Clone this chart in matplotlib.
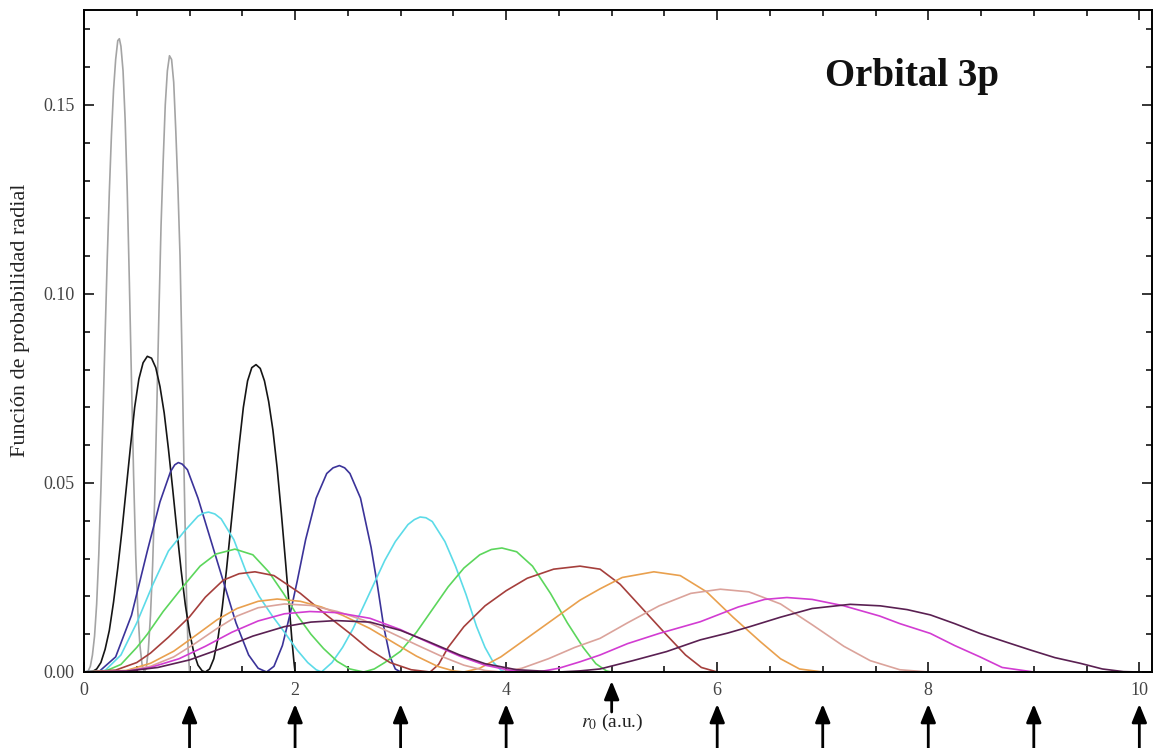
import matplotlib
matplotlib.use("Agg")
import matplotlib.pyplot as plt
from matplotlib.ticker import MultipleLocator, FormatStrFormatter

# Radial probability curves of the confined 3p orbital, one per confinement radius r0
r0_values = [1, 2, 3, 4, 5, 6, 7, 8, 9, 10]
colors = ["#a4a4a4", "#151515", "#3b3399", "#5cdbe8", "#5cd65c",
          "#a53f3c", "#e9a04e", "#dba39b", "#d23cd2", "#5a2052"]

x_r1 = [0.00, 0.04, 0.06, 0.08, 0.10, 0.12, 0.14, 0.16, 0.18, 0.20, 0.22, 0.24, 0.26, 0.28, 0.30, 0.32, 0.335,
        0.35, 0.37, 0.39, 0.41, 0.43, 0.45, 0.47, 0.49, 0.51, 0.53, 0.55, 0.57,
        0.59, 0.61, 0.63, 0.65, 0.67, 0.69, 0.71, 0.73, 0.75, 0.77, 0.79, 0.81, 0.83, 0.85, 0.87, 0.89,
        0.91, 0.93, 0.95, 0.97, 0.985, 1.00]
p_r1 = [0, 0.0003, 0.0015, 0.0045, 0.0095, 0.018, 0.031, 0.048, 0.068, 0.089, 0.109, 0.127, 0.142, 0.154, 0.162,
        0.1670, 0.1675, 0.1655, 0.159, 0.146, 0.127, 0.103, 0.077, 0.052, 0.031, 0.016, 0.007, 0.002, 0,
        0.001, 0.006, 0.015, 0.028, 0.046, 0.070, 0.095, 0.118, 0.135, 0.150, 0.159, 0.163, 0.162, 0.156, 0.143,
        0.128, 0.110, 0.082, 0.050, 0.022, 0.007, 0]

x_r2 = [0.0, 0.08, 0.12, 0.16, 0.20, 0.24, 0.28, 0.32, 0.36, 0.40, 0.44, 0.48, 0.52, 0.56, 0.60, 0.64, 0.68, 0.72,
        0.76, 0.80, 0.84, 0.88, 0.92, 0.96, 1.00, 1.04, 1.08, 1.12, 1.15,
        1.19, 1.23, 1.27, 1.31, 1.35, 1.39, 1.43, 1.47, 1.51, 1.55, 1.59, 1.63, 1.67, 1.71, 1.75, 1.79, 1.83,
        1.87, 1.91, 1.94, 1.97, 1.99, 2.0]
p_r2 = [0, 0.0001, 0.0008, 0.0025, 0.0060, 0.0110, 0.0185, 0.0275, 0.0375, 0.0485, 0.0595, 0.0700, 0.0775, 0.0818,
        0.0835, 0.0830, 0.0805, 0.0755, 0.0685, 0.0590, 0.0485, 0.0375, 0.0270, 0.0178, 0.0105, 0.0052, 0.0018,
        0.0003, 0,
        0.0008, 0.0035, 0.0090, 0.0170, 0.0270, 0.0380, 0.0490, 0.0600, 0.0700, 0.0770, 0.0805, 0.0813, 0.0803,
        0.0770, 0.0715, 0.0640, 0.0540, 0.0420, 0.0290, 0.0190, 0.0085, 0.0025, 0]

x_r3 = [0, 0.15, 0.30, 0.45, 0.60, 0.72, 0.82, 0.86, 0.894, 0.93, 0.98, 1.08, 1.20, 1.32, 1.44, 1.56, 1.65, 1.73,
        1.80, 1.88, 1.95, 2.02, 2.10, 2.20, 2.30, 2.36, 2.42, 2.47, 2.52, 2.62, 2.72, 2.78, 2.84, 2.90, 2.95, 3.0]
p_r3 = [0, 0.0003, 0.0040, 0.0150, 0.0320, 0.0450, 0.0530, 0.0548, 0.0554, 0.0550, 0.0535, 0.0460, 0.0350, 0.0240,
        0.0130, 0.0045, 0.0010, 0,
        0.0015, 0.0070, 0.0150, 0.0240, 0.0350, 0.0460, 0.0525, 0.0540, 0.0546, 0.0540, 0.0525, 0.0460, 0.0330,
        0.0230, 0.0120, 0.0040, 0.0008, 0]

x_r4 = [0, 0.2, 0.35, 0.5, 0.65, 0.80, 0.95, 1.08, 1.13, 1.18, 1.24, 1.30, 1.42, 1.54, 1.66, 1.78, 1.90, 2.02,
        2.12, 2.20, 2.25,
        2.35, 2.45, 2.55, 2.65, 2.75, 2.85, 2.95, 3.07, 3.13, 3.185, 3.24, 3.30, 3.42, 3.52, 3.62, 3.72, 3.80,
        3.88, 3.95, 4.0]
p_r4 = [0, 0.0004, 0.0045, 0.0130, 0.0230, 0.0320, 0.0372, 0.0412, 0.0420, 0.0423, 0.0418, 0.0405, 0.0350, 0.0262,
        0.0200, 0.0150, 0.0105, 0.0058, 0.0025, 0.0006, 0,
        0.0025, 0.0065, 0.0115, 0.0175, 0.0235, 0.0295, 0.0345, 0.0390, 0.0403, 0.0410, 0.0408, 0.0398, 0.0345,
        0.0280, 0.0205, 0.0120, 0.0065, 0.0025, 0.0005, 0]

x_r5 = [0, 0.2, 0.35, 0.5, 0.6, 0.75, 0.95, 1.1, 1.25, 1.43, 1.6, 1.75, 1.89, 2.02, 2.15, 2.27, 2.40, 2.52, 2.65,
        2.75, 2.85, 3.0, 3.15, 3.3, 3.45, 3.6, 3.75, 3.86, 3.96, 4.1, 4.25, 4.42, 4.58, 4.73, 4.85, 4.95, 5.0]
p_r5 = [0, 0.0002, 0.0020, 0.0065, 0.0100, 0.0160, 0.0230, 0.0280, 0.0312, 0.0325, 0.0310, 0.0265, 0.0208, 0.0150,
        0.0100, 0.0062, 0.0028, 0.0008, 0,
        0.0008, 0.0025, 0.0055, 0.0105, 0.0165, 0.0225, 0.0275, 0.0310, 0.0324, 0.0328, 0.0318, 0.0280, 0.0208,
        0.0130, 0.0065, 0.0022, 0.0003, 0]

x_r6 = [0, 0.3, 0.5, 0.63, 0.8, 1.0, 1.15, 1.32, 1.47, 1.62, 1.8, 2.05, 2.3, 2.52, 2.7, 2.9, 3.1, 3.28,
        3.36, 3.45, 3.6, 3.8, 4.0, 4.2, 4.45, 4.70, 4.89, 5.08, 5.3, 5.52, 5.7, 5.85, 6.0]
p_r6 = [0, 0.0005, 0.0025, 0.0050, 0.0092, 0.0146, 0.0198, 0.0243, 0.0260, 0.0265, 0.0255, 0.0208, 0.0150, 0.0102,
        0.0060, 0.0025, 0.0006, 0,
        0.0020, 0.0065, 0.0120, 0.0175, 0.0215, 0.0248, 0.0272, 0.0280, 0.0272, 0.0232, 0.0165, 0.0098, 0.0045,
        0.0012, 0]

x_r7 = [0, 0.4, 0.63, 0.85, 1.05, 1.26, 1.45, 1.65, 1.83, 2.05, 2.25, 2.45, 2.71, 2.95, 3.15, 3.35, 3.5, 3.6,
        3.75, 3.95, 4.2, 4.45, 4.7, 4.89, 5.1, 5.40, 5.65, 5.90, 6.15, 6.41, 6.6, 6.78, 7.0]
p_r7 = [0, 0.0004, 0.0023, 0.0055, 0.0095, 0.0138, 0.0168, 0.0187, 0.0193, 0.0187, 0.0172, 0.0150, 0.0115, 0.0075,
        0.0042, 0.0015, 0.0003, 0,
        0.0010, 0.0040, 0.0090, 0.0140, 0.0190, 0.0220, 0.0250, 0.0265, 0.0255, 0.0212, 0.0145, 0.0080, 0.0035,
        0.0008, 0]

x_r8 = [0, 0.4, 0.63, 0.85, 1.05, 1.26, 1.45, 1.65, 1.90, 2.15, 2.40, 2.65, 2.90, 3.15, 3.40, 3.60, 3.80, 3.95,
        4.15, 4.4, 4.65, 4.89, 5.15, 5.45, 5.75, 6.03, 6.3, 6.6, 6.9, 7.2, 7.45, 7.73, 8.0]
p_r8 = [0, 0.0003, 0.0015, 0.0040, 0.0075, 0.0115, 0.0148, 0.0170, 0.0180, 0.0176, 0.0160, 0.0137, 0.0105, 0.0072,
        0.0040, 0.0018, 0.0004, 0,
        0.0010, 0.0035, 0.0065, 0.0089, 0.0130, 0.0175, 0.0208, 0.0219, 0.0212, 0.0180, 0.0125, 0.0068, 0.0030,
        0.0006, 0]

x_r9 = [0, 0.4, 0.63, 0.9, 1.15, 1.4, 1.65, 1.9, 2.14, 2.4, 2.71, 3.0, 3.25, 3.56, 3.8, 4.05, 4.3,
        4.5, 4.7, 4.89, 5.15, 5.45, 5.84, 6.2, 6.45, 6.66, 6.9, 7.2, 7.54, 7.73, 8.02, 8.25, 8.49, 8.7, 9.0]
p_r9 = [0, 0.0002, 0.0012, 0.0035, 0.0068, 0.0105, 0.0135, 0.0154, 0.0160, 0.0157, 0.0142, 0.0112, 0.0080, 0.0042,
        0.0018, 0.0004, 0,
        0.0010, 0.0027, 0.0045, 0.0075, 0.0102, 0.0133, 0.0172, 0.0192, 0.0197, 0.0192, 0.0175, 0.0148, 0.0128,
        0.0102, 0.0070, 0.0040, 0.0012, 0]

x_r10 = [0, 0.4, 0.7, 1.0, 1.3, 1.6, 1.9, 2.15, 2.39, 2.71, 3.0, 3.25, 3.56, 3.8, 4.1, 4.5,
         4.7, 4.89, 5.2, 5.52, 5.84, 6.1, 6.31, 6.6, 6.9, 7.26, 7.545, 7.8, 8.02, 8.25, 8.49, 8.75, 8.97, 9.2,
         9.44, 9.65, 9.85, 10.0]
p_r10 = [0, 0.0002, 0.0012, 0.0032, 0.0062, 0.0095, 0.0120, 0.0132, 0.0136, 0.0132, 0.0110, 0.0082, 0.0045, 0.0022,
         0.0006, 0,
         0.0003, 0.0008, 0.0030, 0.0054, 0.0085, 0.0103, 0.0120, 0.0145, 0.0168, 0.0179, 0.0175, 0.0165, 0.0151,
         0.0128, 0.0102, 0.0078, 0.0058, 0.0038, 0.0023, 0.0008, 0.0001, 0]

curves_x = [x_r1, x_r2, x_r3, x_r4, x_r5, x_r6, x_r7, x_r8, x_r9, x_r10]
curves_p = [p_r1, p_r2, p_r3, p_r4, p_r5, p_r6, p_r7, p_r8, p_r9, p_r10]

x_ticks = [0, 2, 4, 6, 8, 10]
y_ticks = [0.00, 0.05, 0.10, 0.15]

plt.rcParams["font.family"] = ["Liberation Serif", "DejaVu Serif"]
plt.rcParams["mathtext.fontset"] = "stix"

W, H = 1154, 748
fig = plt.figure(figsize=(W / 100, H / 100), dpi=100)
ax = fig.add_axes([84 / W, 1 - 672 / H, (1152 - 84) / W, (672 - 10) / H])

for xs, ps, c in zip(curves_x, curves_p, colors):
    ax.plot(xs, ps, color=c, lw=1.2, solid_joinstyle="round")

ax.set_xlim(0, 10.12)
ax.set_ylim(0, 0.1751)
ax.set_xticks(x_ticks)
ax.set_yticks(y_ticks)
ax.xaxis.set_minor_locator(MultipleLocator(0.5))
ax.yaxis.set_minor_locator(MultipleLocator(0.01))
ax.yaxis.set_major_formatter(FormatStrFormatter("%.2f"))
ax.tick_params(which="both", direction="in", top=True, right=True, width=1.1,
               labelsize=13, labelcolor="#444444")
ax.tick_params(axis="x", pad=7)
ax.tick_params(axis="y", pad=7)
ax.tick_params(which="major", length=7)
ax.tick_params(which="minor", length=4)
for s in ax.spines.values():
    s.set_linewidth(1.4)

ax.text(0.775, 0.9, "Orbital 3p", transform=ax.transAxes, ha="center", va="center",
        fontsize=28, fontweight="bold", color="#111111")

fig.text(21 / W, 1 - 320 / H, "Función de probabilidad radial", rotation=90,
         ha="center", va="center", fontsize=16, color="#222222")
fig.text(612 / W, 1 - 722 / H, r"$r_0$ (a.u.)", ha="center", va="center",
         fontsize=14, color="#222222")

# arrows marking each confinement radius below the axis
for r0 in r0_values:
    if r0 == 5:
        tail, tip = 712, 681
    else:
        tail, tip = 748, 704
    ax.annotate("", xy=(r0, 1 - tip / H), xytext=(r0, 1 - tail / H),
                xycoords=("data", "figure fraction"), textcoords=("data", "figure fraction"),
                arrowprops=dict(arrowstyle="-|>,head_width=0.45,head_length=1.1", color="black",
                                lw=2.0, shrinkA=0, shrinkB=0),
                annotation_clip=False)

fig.savefig("out.png", dpi=100, facecolor="white")
